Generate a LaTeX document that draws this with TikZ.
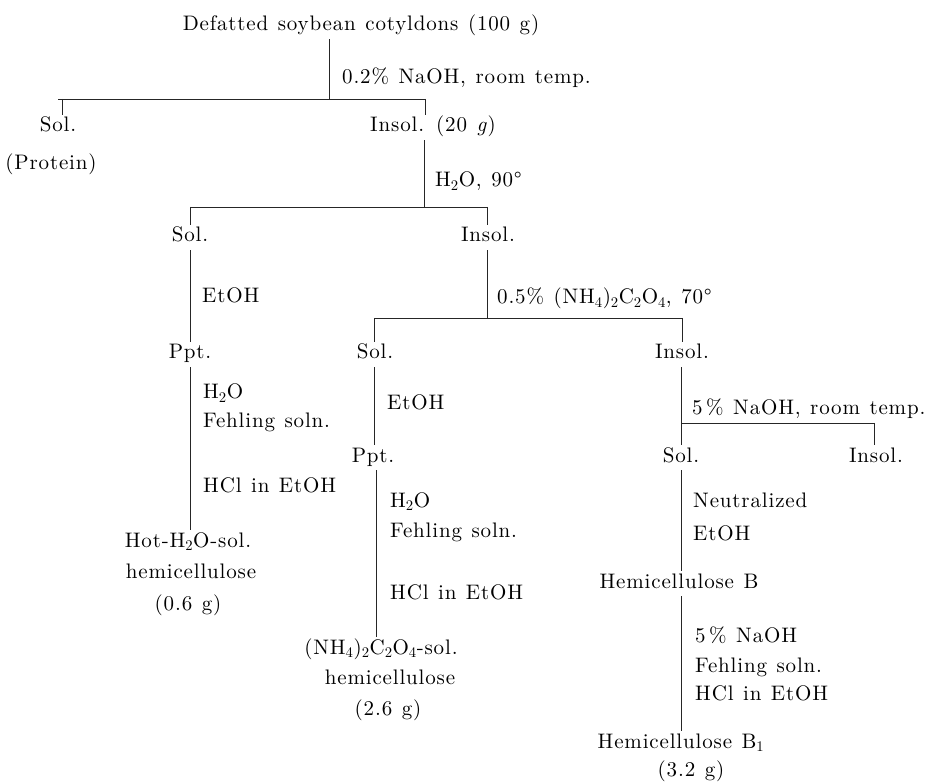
\documentclass[tikz,border=0pt]{standalone}
\usepackage{fontspec}
\setmainfont{lmroman10-regular.otf}[LetterSpace=4, ItalicFont=lmroman10-italic.otf]
\newcommand\diagfont{\fontsize{21}{25}\selectfont\spaceskip=9.5pt plus 2pt\relax}
\begin{document}
\begin{tikzpicture}[x=1pt,y=-1pt,
  every node/.style={font=\diagfont,
    inner sep=0pt, text height=17pt, text depth=8pt},
  lbl/.style={anchor=base west},
  itm/.style={anchor=base},
  ln/.style={line width=0.8pt, draw=black!85}]
\useasboundingbox (0,0) rectangle (940,783);

% ---- level 1
\node[itm] (title) at (361,31) {Defatted soybean cotyldons (100 g)};
\node[lbl] (l1) at (342,84) {0.2\% NaOH, room temp.};
\coordinate (b1L) at (58,99);
\coordinate (t1L) at (62,99);
\coordinate (b1M) at (329,99);
\coordinate (b1R) at (425,99);
\node[itm] (sol1) at (58,132) {Sol.};
\node[itm] (prot) at (51,170) {(Protein)};
\node[lbl] (ins1) at (370,132) {Insol. (20 \textit{g})};
\draw[ln] (title.south -| b1M) -- (b1M);
\draw[ln] (b1L) -- (b1R);
\draw[ln] (t1L) -- (sol1.north -| t1L);
\draw[ln] (b1R) -- (ins1.north -| b1R);

% ---- level 2
\coordinate (b2L) at (190,207);
\coordinate (b2M) at (424,207);
\coordinate (b2R) at (487,207);
\node[lbl] (l2) at (435,187) {H\textsubscript{2}O, 90\textdegree};
\node[itm] (sol2) at (190,242) {Sol.};
\node[itm] (ins2) at (488,242) {Insol.};
\draw[ln] (ins1.south -| b2M) -- (b2M);
\draw[ln] (b2L) -- (b2R);
\draw[ln] (b2L) -- (sol2.north -| b2L);
\draw[ln] (b2R) -- (ins2.north -| b2R);

% ---- left branch
\node[lbl] (l3) at (202,303) {EtOH};
\node[itm] (ppt1) at (190,359) {Ppt.};
\node[lbl] (l4a) at (203,399) {H\textsubscript{2}O};
\node[lbl] (l4b) at (203,428) {Fehling soln.};
\node[lbl] (l4c) at (203,493) {HCl in EtOH};
\node[itm] (hot) at (188,547) {Hot-H\textsubscript{2}O-sol.};
\node[itm] (hot2) at (191,578) {hemicellulose};
\node[itm] (hot3) at (188,610) {(0.6 g)};
\draw[ln] (sol2.south -| b2L) -- (ppt1.north -| b2L);
\draw[ln] (ppt1.south -| b2L) -- (hot.north -| b2L);

% ---- level 3
\coordinate (b3L) at (374,318);
\coordinate (b3M) at (487,318);
\coordinate (b3R) at (682,318);
\node[lbl] (l5) at (497,304) {0.5\% (NH\textsubscript{4})\textsubscript{2}C\textsubscript{2}O\textsubscript{4}, 70\textdegree};
\node[itm] (sol3) at (375,359) {Sol.};
\node[itm] (ins3) at (682,359) {Insol.};
\draw[ln] (ins2.south -| b3M) -- (b3M);
\draw[ln] (b3L) -- (b3R);
\draw[ln] (b3L) -- (sol3.north -| b3L);
\draw[ln] (b3R) -- (ins3.north -| b3R);

% ---- middle branch
\coordinate (m1) at (376,0);
\node[lbl] (l6) at (387,410) {EtOH};
\node[itm] (ppt2) at (373,462) {Ppt.};
\node[lbl] (l7a) at (390,507) {H\textsubscript{2}O};
\node[lbl] (l7b) at (390,537) {Fehling soln.};
\node[lbl] (l7c) at (390,599) {HCl in EtOH};
\node[itm] (nh) at (381,654) {(NH\textsubscript{4})\textsubscript{2}C\textsubscript{2}O\textsubscript{4}-sol.};
\node[itm] (nh2) at (390,684) {hemicellulose};
\node[itm] (nh3) at (388,715) {(2.6 g)};
\draw[ln] (sol3.south -| b3L) -- (ppt2.north -| b3L);
\draw[ln] (ppt2.south -| m1) -- (nh.north -| m1);

% ---- right branch
\coordinate (b4L) at (681,423);
\coordinate (b4R) at (874,423);
\node[lbl] (l8) at (692,415) {5\,\% NaOH, room temp.};
\node[itm] (sol4) at (681,462) {Sol.};
\node[itm] (ins4) at (876,462) {Insol.};
\draw[ln] (ins3.south -| b4L) -- (sol4.north -| b4L);
\draw[ln] (b4L) -- (b4R);
\draw[ln] (b4R) -- (ins4.north -| b4R);
\node[lbl] (l9a) at (693,507) {Neutralized};
\node[lbl] (l9b) at (693,540) {EtOH};
\node[itm] (hb) at (679,588) {Hemicellulose B};
\draw[ln] (sol4.south -| b4L) -- (hb.north -| b4L);
\node[lbl] (l10a) at (695,642) {5\,\% NaOH};
\node[lbl] (l10b) at (695,672) {Fehling soln.};
\node[lbl] (l10c) at (695,700) {HCl in EtOH};
\node[itm] (hb1) at (681,748) {Hemicellulose B\textsubscript{1}};
\node[itm] (hb1b) at (691,776) {(3.2 g)};
\draw[ln] (hb.south -| b4L) -- (hb1.north -| b4L);
\end{tikzpicture}
\end{document}
